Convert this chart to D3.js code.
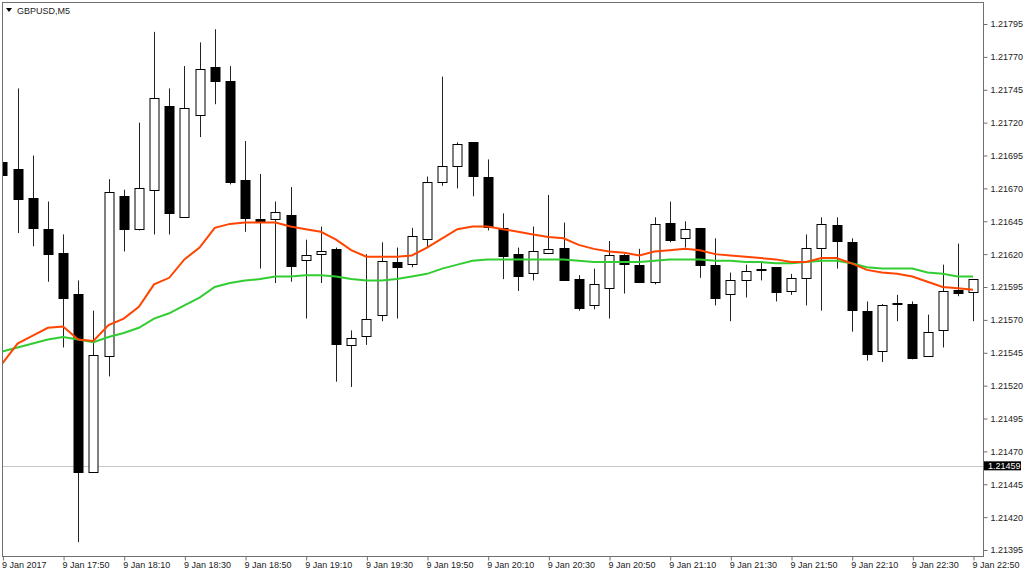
<!DOCTYPE html>
<html><head><meta charset="utf-8">
<script src="https://cdn.jsdelivr.net/npm/d3@7"></script>
<style>
html,body{margin:0;padding:0;background:#fff;}
svg{display:block;}
text{font-family:"Liberation Sans",Arial,sans-serif;}
</style></head>
<body>
<script>
// ---- data (prices in 1e-5 units added to 1.2) ----
const xLabels = ["9 Jan 2017","9 Jan 17:50","9 Jan 18:10","9 Jan 18:30","9 Jan 18:50","9 Jan 19:10","9 Jan 19:30","9 Jan 19:50","9 Jan 20:10","9 Jan 20:30","9 Jan 20:50","9 Jan 21:10","9 Jan 21:30","9 Jan 21:50","9 Jan 22:10","9 Jan 22:30","9 Jan 22:50"];
const yTicks = [1.21395,1.21420,1.21445,1.21470,1.21495,1.21520,1.21545,1.21570,1.21595,1.21620,1.21645,1.21670,1.21695,1.21720,1.21745,1.21770,1.21795];
const opens  = [1.21690,1.21685,1.21663,1.21639,1.21621,1.21590,1.21454,1.21542,1.21664,1.21639,1.21669,1.21733,1.21648,1.21726,1.21762,1.21752,1.21676,1.21647,1.21647,1.21650,1.21615,1.21620,1.21624,1.21551,1.21558,1.21574,1.21614,1.21613,1.21632,1.21675,1.21687,1.21705,1.21679,1.21640,1.21620,1.21605,1.21621,1.21625,1.21601,1.21581,1.21594,1.21619,1.21612,1.21599,1.21644,1.21632,1.21640,1.21612,1.21589,1.21600,1.21609,1.21610,1.21592,1.21602,1.21625,1.21642,1.21629,1.21577,1.21546,1.21583,1.21582,1.21543,1.21562,1.21593,1.21591];
const highs  = [1.21692,1.21746,1.21695,1.21660,1.21635,1.21600,1.21577,1.21677,1.21669,1.21720,1.21789,1.21746,1.21763,1.21781,1.21791,1.21763,1.21706,1.21681,1.21660,1.21671,1.21631,1.21641,1.21625,1.21562,1.21620,1.21629,1.21625,1.21640,1.21679,1.21755,1.21705,1.21705,1.21692,1.21651,1.21625,1.21641,1.21665,1.21644,1.21604,1.21609,1.21630,1.21620,1.21624,1.21648,1.21660,1.21645,1.21640,1.21632,1.21606,1.21612,1.21614,1.21610,1.21605,1.21635,1.21648,1.21648,1.21632,1.21584,1.21582,1.21589,1.21584,1.21574,1.21612,1.21628,1.21601];
const lows   = [1.21625,1.21636,1.21626,1.21599,1.21549,1.21401,1.21454,1.21527,1.21622,1.21638,1.21635,1.21635,1.21648,1.21709,1.21734,1.21673,1.21637,1.21609,1.21598,1.21599,1.21571,1.21598,1.21523,1.21519,1.21551,1.21569,1.21571,1.21610,1.21625,1.21672,1.21670,1.21664,1.21638,1.21601,1.21592,1.21600,1.21621,1.21600,1.21577,1.21578,1.21571,1.21590,1.21598,1.21597,1.21629,1.21625,1.21602,1.21581,1.21569,1.21587,1.21600,1.21584,1.21589,1.21581,1.21577,1.21609,1.21561,1.21539,1.21538,1.21569,1.21540,1.21542,1.21549,1.21588,1.21569];
const closes = [1.21680,1.21662,1.21640,1.21620,1.21587,1.21455,1.21543,1.21667,1.21639,1.21670,1.21739,1.21652,1.21731,1.21761,1.21751,1.21675,1.21647,1.21645,1.21652,1.21611,1.21619,1.21622,1.21552,1.21556,1.21571,1.21615,1.21610,1.21634,1.21675,1.21687,1.21704,1.21679,1.21641,1.21619,1.21603,1.21622,1.21624,1.21601,1.21579,1.21597,1.21619,1.21612,1.21599,1.21643,1.21631,1.21639,1.21612,1.21587,1.21600,1.21607,1.21608,1.21591,1.21602,1.21625,1.21643,1.21630,1.21577,1.21544,1.21581,1.21582,1.21541,1.21561,1.21592,1.21591,1.21601];
const maFast = [1.21537,1.21552,1.21558,1.21564,1.21565,1.21555,1.21554,1.21566,1.21571,1.21580,1.21597,1.21602,1.21616,1.21625,1.21640,1.21643,1.21644,1.21644,1.21644,1.21641,1.21639,1.21637,1.21631,1.21623,1.21618,1.21618,1.21618,1.21619,1.21625,1.21632,1.21639,1.21641,1.21641,1.21639,1.21637,1.21635,1.21633,1.21632,1.21627,1.21624,1.21622,1.21621,1.21619,1.21622,1.21623,1.21624,1.21623,1.21620,1.21619,1.21618,1.21617,1.21616,1.21614,1.21614,1.21617,1.21617,1.21613,1.21608,1.21606,1.21605,1.21603,1.21599,1.21595,1.21594,1.21593];
const maSlow = [1.21546,1.21549,1.21552,1.21555,1.21557,1.21555,1.21553,1.21557,1.21560,1.21564,1.21571,1.21575,1.21581,1.21587,1.21595,1.21598,1.21600,1.21601,1.21603,1.21603,1.21604,1.21604,1.21603,1.21601,1.21600,1.21600,1.21601,1.21603,1.21605,1.21609,1.21612,1.21615,1.21616,1.21616,1.21616,1.21616,1.21616,1.21616,1.21615,1.21614,1.21614,1.21614,1.21614,1.21615,1.21616,1.21616,1.21616,1.21615,1.21615,1.21614,1.21614,1.21613,1.21613,1.21614,1.21615,1.21615,1.21613,1.21610,1.21609,1.21609,1.21609,1.21606,1.21605,1.21603,1.21603];
const currentPrice = 1.21459;
const symbol = "GBPUSD,M5";
const labelEvery = 4;

const candles = opens.map((o,i)=>({i, o, h:highs[i], l:lows[i], c:closes[i]}));

// ---- layout ----
const W=1024,H=576;
const L=2.5, R=983.5, T=2.5, B=556.5;

const svg = d3.select("body").append("svg").attr("width",W).attr("height",H);

const x = d3.scaleLinear().domain([0, candles.length-1]).range([2.4, 973]);
const y = d3.scaleLinear().domain([1.21395, 1.21795]).range([550, 24]);

svg.append("defs").append("clipPath").attr("id","plot")
  .append("rect").attr("x",L).attr("y",T).attr("width",R-L).attr("height",B-T);

const g = svg.append("g").attr("clip-path","url(#plot)");

// current price line
g.append("line").attr("x1",L).attr("x2",R)
  .attr("y1",Math.round(y(currentPrice))+0.5).attr("y2",Math.round(y(currentPrice))+0.5)
  .attr("stroke","#c8c8c8").attr("stroke-width",1);

// wicks
const px = v => Math.round(v)+0.5;
g.selectAll("line.wick").data(candles).join("line").attr("class","wick")
  .attr("x1",d=>px(x(d.i))).attr("x2",d=>px(x(d.i)))
  .attr("y1",d=>y(d.h)).attr("y2",d=>y(d.l))
  .attr("stroke","#222").attr("stroke-width",1);

// bodies
const bw = 9;
g.selectAll("rect.body").data(candles).join("rect").attr("class","body")
  .attr("x",d=>px(x(d.i))-bw/2)
  .attr("y",d=>Math.round(y(Math.max(d.o,d.c)))+0.5)
  .attr("width",bw)
  .attr("height",d=>Math.max(1, Math.round(Math.abs(y(d.o)-y(d.c)))))
  .attr("fill",d=>d.c>=d.o ? "#fff" : "#000")
  .attr("stroke","#000").attr("stroke-width",1);

// moving averages
const line = d3.line().x((d,i)=>x(i)).y(d=>y(d));
g.append("path").datum(maSlow).attr("d",line).attr("fill","none")
  .attr("stroke","#32cd32").attr("stroke-width",2);
g.append("path").datum(maFast).attr("d",line).attr("fill","none")
  .attr("stroke","#ff4500").attr("stroke-width",2);

// frame
svg.append("rect").attr("x",L).attr("y",T).attr("width",R-L).attr("height",B-T)
  .attr("fill","none").attr("stroke","#707070").attr("stroke-width",1);

// right axis
const yAxis = d3.axisRight(y).tickValues(yTicks).tickSize(4).tickPadding(3)
  .tickFormat(d3.format(".5f"));
const ya = svg.append("g").attr("transform",`translate(${R},0)`).call(yAxis);
ya.select(".domain").remove();
ya.selectAll(".tick line").attr("stroke","#707070");
ya.selectAll(".tick text").attr("font-size","9px").attr("fill","#222")
  .attr("font-family","'Liberation Sans',Arial,sans-serif");

// bottom axis
const tickIdx = xLabels.map((d,k)=>k*labelEvery);
const xAxis = d3.axisBottom(x).tickValues(tickIdx).tickSize(4)
  .tickFormat((d,k)=>xLabels[k]);
const xa = svg.append("g").attr("transform",`translate(0,${B})`).call(xAxis);
xa.select(".domain").remove();
xa.selectAll(".tick line").attr("stroke","#707070").attr("transform","translate(0.5,0)");
xa.selectAll(".tick text").attr("font-size","9px").attr("fill","#222")
  .attr("text-anchor","start").attr("dx","-1").attr("dy","0.55em")
  .attr("font-family","'Liberation Sans',Arial,sans-serif");

// current price label
const cy = y(currentPrice);
svg.append("rect").attr("x",R+0.5).attr("y",cy-4.5).attr("width",37).attr("height",9).attr("fill","#000");
svg.append("text").attr("x",R+4.5).attr("y",cy).attr("dy","0.34em")
  .attr("font-size","9px").attr("fill","#fff").text(d3.format(".5f")(currentPrice));

// title
svg.append("path").attr("d","M6,8 L12,8 L9,12 Z").attr("fill","#000");
svg.append("text").attr("x",17).attr("y",14).attr("font-size","9px").attr("fill","#222").text(symbol);
</script>
</body></html>
